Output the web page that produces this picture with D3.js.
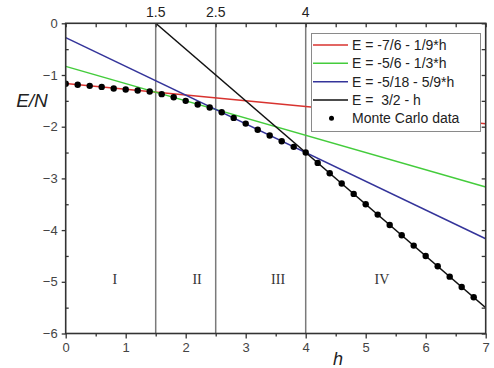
<!DOCTYPE html>
<html>
<head>
<meta charset="utf-8">
<script src="https://cdn.jsdelivr.net/npm/d3@7"></script>
<style>
  body { margin: 0; background: #fff; }
  svg text { font-family: "Liberation Sans", Arial, sans-serif; }
</style>
</head>
<body>
<svg id="chart" width="494" height="368"></svg>
<script>
// Axis ticks
const hTicks = [0, 1, 2, 3, 4, 5, 6, 7];
const hMinorTicks = [0.5, 1.5, 2.5, 3.5, 4.5, 5.5, 6.5];
const eTicks = [0, -1, -2, -3, -4, -5, -6];
const eMinorTicks = [-0.5, -1.5, -2.5, -3.5, -4.5, -5.5];

// Phase boundaries and region names
const phaseBounds = [1.5, 2.5, 4];
const phaseBoundLabels = ["1.5", "2.5", "4"];
const regionNames = ["I", "II", "III", "IV"];
const regionCentersH = [0.82, 2.19, 3.54, 5.27];
const regionLabelE = -5.05;

// Linear ground-state branches E = a + b*h
const fitLabels = ["E = -7/6 - 1/9*h", "E = -5/6 - 1/3*h", "E = -5/18 - 5/9*h", "E =  3/2 - h"];
const fitIntercepts = [-7 / 6, -5 / 6, -5 / 18, 3 / 2];
const fitSlopes = [-1 / 9, -1 / 3, -5 / 9, -1];
const fitStartH = [0, 0, 0, 1.5];
const fitEndH = [7, 7, 7, 7];
const fitColors = ["#d8332f", "#44cc3c", "#34349a", "#111111"];

// Monte Carlo energies per spin
const mcH = [0.0, 0.2, 0.4, 0.6, 0.8, 1.0, 1.2, 1.4, 1.6, 1.8, 2.0, 2.2, 2.4,
             2.6, 2.8, 3.0, 3.2, 3.4, 3.6, 3.8, 4.0, 4.2, 4.4, 4.6, 4.8, 5.0,
             5.2, 5.4, 5.6, 5.8, 6.0, 6.2, 6.4, 6.6, 6.8];
const mcE = [-1.17, -1.19, -1.21, -1.23, -1.26, -1.28, -1.30, -1.32, -1.37, -1.43,
             -1.50, -1.57, -1.63, -1.72, -1.83, -1.94, -2.06, -2.17, -2.28, -2.39,
             -2.50, -2.70, -2.90, -3.10, -3.30, -3.50, -3.70, -3.90, -4.10, -4.30,
             -4.50, -4.70, -4.90, -5.10, -5.30];

const svg = d3.select("#chart");
const x = d3.scaleLinear().domain([0, 7]).range([65.7, 485.7]);
const y = d3.scaleLinear().domain([0, -6]).range([23.3, 333.5]);
const [x0, x1] = x.range();
const [y0, y1] = y.range();

svg.append("defs").append("clipPath").attr("id", "plot-clip")
  .append("rect").attr("x", x0).attr("y", y0).attr("width", x1 - x0).attr("height", y1 - y0);

const plot = svg.append("g").attr("clip-path", "url(#plot-clip)");

// Phase boundary lines
plot.selectAll("line.bound").data(phaseBounds).join("line")
  .attr("class", "bound")
  .attr("x1", d => x(d)).attr("x2", d => x(d))
  .attr("y1", y0).attr("y2", y1)
  .attr("stroke", "#7a7a7a").attr("stroke-width", 1.5);

// Branch lines
const fits = fitLabels.map((label, i) => ({
  label, color: fitColors[i],
  pts: [fitStartH[i], fitEndH[i]].map(h => [h, fitIntercepts[i] + fitSlopes[i] * h])
}));
const line = d3.line().x(d => x(d[0])).y(d => y(d[1]));
plot.selectAll("path.fit").data(fits).join("path")
  .attr("class", "fit")
  .attr("d", d => line(d.pts))
  .attr("fill", "none")
  .attr("stroke", d => d.color)
  .attr("stroke-width", 1.5);

// Monte Carlo points
plot.selectAll("circle.mc").data(mcH.map((h, i) => [h, mcE[i]])).join("circle")
  .attr("class", "mc")
  .attr("cx", d => x(d[0])).attr("cy", d => y(d[1]))
  .attr("r", 3.2).attr("fill", "#000");

// Region labels
svg.selectAll("text.region").data(regionNames).join("text")
  .attr("class", "region")
  .attr("x", (d, i) => x(regionCentersH[i]))
  .attr("y", y(regionLabelE))
  .attr("text-anchor", "middle")
  .style("font-family", "'Liberation Serif', 'Times New Roman', serif")
  .style("font-size", "14px")
  .attr("fill", "#333")
  .text(d => d);

// Axes
const axisColor = "#333";
const axisFont = "13px";
function styleAxis(g) {
  g.select(".domain").remove();
  g.selectAll(".tick line").attr("stroke", axisColor).attr("stroke-width", 1.3);
  g.selectAll(".tick text").attr("fill", "#444").style("font-size", axisFont);
}

// bottom
svg.append("g").attr("transform", `translate(0,${y1})`)
  .call(d3.axisBottom(x).tickValues(hTicks).tickFormat(d3.format("d")).tickSize(5).tickPadding(4))
  .call(styleAxis);
svg.append("g").attr("transform", `translate(0,${y1})`)
  .call(d3.axisBottom(x).tickValues(hMinorTicks).tickFormat("").tickSize(3))
  .call(styleAxis);
// left
svg.append("g").attr("transform", `translate(${x0},0)`)
  .call(d3.axisLeft(y).tickValues(eTicks).tickFormat(d3.format("d")).tickSize(4).tickPadding(4))
  .call(styleAxis);
svg.append("g").attr("transform", `translate(${x0},0)`)
  .call(d3.axisRight(y).tickValues(eMinorTicks).tickFormat("").tickSize(3))
  .call(styleAxis);
// top (inward)
svg.append("g").attr("transform", `translate(0,${y0})`)
  .call(d3.axisBottom(x).tickValues(hTicks.concat(hMinorTicks)).tickFormat("").tickSize(4))
  .call(styleAxis);
// right (inward)
svg.append("g").attr("transform", `translate(${x1},0)`)
  .call(d3.axisLeft(y).tickValues(eTicks.concat(eMinorTicks)).tickFormat("").tickSize(4))
  .call(styleAxis);

// Frame
svg.append("rect")
  .attr("x", x0).attr("y", y0).attr("width", x1 - x0).attr("height", y1 - y0)
  .attr("fill", "none").attr("stroke", axisColor).attr("stroke-width", 1.6);

// Boundary values above the top axis
svg.selectAll("text.boundlab").data(phaseBounds).join("text")
  .attr("class", "boundlab")
  .attr("x", d => x(d)).attr("y", y0 - 6)
  .attr("text-anchor", "middle")
  .style("font-size", "14px").attr("fill", "#222")
  .text((d, i) => phaseBoundLabels[i]);

// Axis titles
svg.append("text")
  .attr("x", 32).attr("y", 107)
  .attr("text-anchor", "middle")
  .style("font-size", "19px").style("font-style", "italic").attr("fill", "#222")
  .text("E/N");
svg.append("text")
  .attr("x", 338).attr("y", 365)
  .attr("text-anchor", "middle")
  .style("font-size", "18px").style("font-style", "italic").attr("fill", "#222")
  .text("h");

// Legend
const legend = svg.append("g");
legend.append("rect")
  .attr("x", 311.5).attr("y", 33.5).attr("width", 169).attr("height", 98)
  .attr("fill", "#fff").attr("stroke", "#8a8a8a").attr("stroke-width", 1);
const rowY = [45, 63.3, 81.7, 100, 118.3];
const entries = fits.map(f => ({ label: f.label, color: f.color, kind: "line" }))
  .concat([{ label: "Monte Carlo data", color: "#000", kind: "dot" }]);
const rows = legend.selectAll("g.row").data(entries).join("g")
  .attr("class", "row")
  .attr("transform", (d, i) => `translate(0,${rowY[i]})`);
rows.filter(d => d.kind === "line").append("line")
  .attr("x1", 313).attr("x2", 348).attr("y1", 0).attr("y2", 0)
  .attr("stroke", d => d.color).attr("stroke-width", 1.6);
rows.filter(d => d.kind === "dot").append("circle")
  .attr("cx", 331.5).attr("cy", 0).attr("r", 2.5).attr("fill", "#000");
rows.append("text")
  .attr("x", 352).attr("y", 5)
  .style("font-size", "14px").style("white-space", "pre").attr("fill", "#222")
  .text(d => d.label);
</script>
</body>
</html>
